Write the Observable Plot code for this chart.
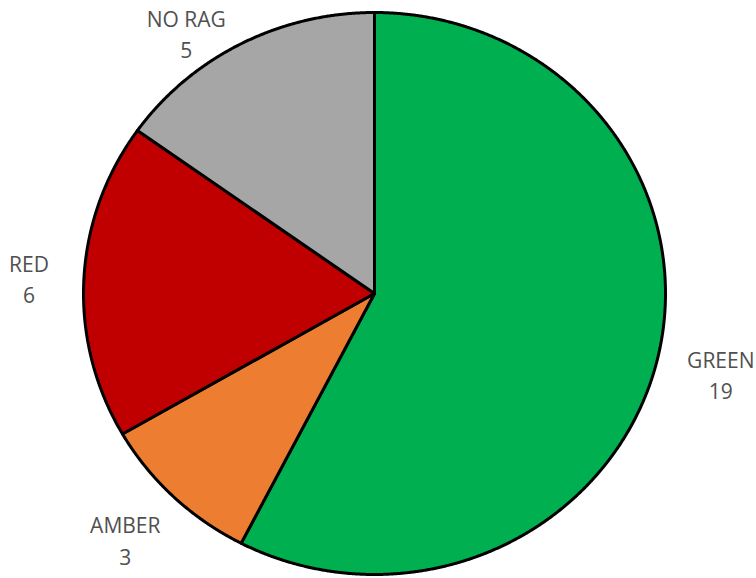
<!DOCTYPE html>
<html><head><meta charset="utf-8">
<script src="https://cdn.jsdelivr.net/npm/d3@7"></script>
<script src="https://cdn.jsdelivr.net/npm/@observablehq/plot@0.6"></script>
<style>html,body{margin:0;padding:0;background:#fff}</style>
</head><body><div id="chart"></div>
<script>
// ---- data ----
const categories = ["GREEN", "AMBER", "RED", "NO RAG"];
const values = [19, 3, 6, 5];
const colors = ["#00B050", "#ED7D31", "#C00000", "#A6A6A6"];

// ---- layout ----
const W = 756, H = 578;
const cx = 374, cy = 293, rx = 291, ry = 281;
const fontSize = 21, lineHeight = 1.5, fontFamily = "Open Sans";
const labelK = 1.12;

const rows = categories.map((c, i) => ({label: c, value: values[i]}));
const arcs = d3.pie().sort(null).value(d => d.value)(rows);

// slice outlines in unit coordinates (angle 0 = 12 o'clock, clockwise)
const pts = [];
for (const a of arcs) {
  pts.push({label: a.data.label, u: 0, v: 0});
  const n = Math.max(2, Math.ceil((a.endAngle - a.startAngle) / 0.004));
  for (let i = 0; i <= n; i++) {
    const t = a.startAngle + (a.endAngle - a.startAngle) * i / n;
    pts.push({label: a.data.label, u: Math.sin(t), v: Math.cos(t)});
  }
}

// labels outside each slice, at mid angle, box pushed outward and kept in frame
const ctx = document.createElement("canvas").getContext("2d");
ctx.font = `${fontSize}px "${fontFamily}"`;
const labels = arcs.map(a => {
  const m = (a.startAngle + a.endAngle) / 2;
  const s = Math.sin(m), c = Math.cos(m);
  const text = `${a.data.label}\n${a.data.value}`;
  const w = Math.max(ctx.measureText(a.data.label).width, ctx.measureText(String(a.data.value)).width);
  const h = fontSize * (lineHeight + 0.8);
  let px = cx + rx * labelK * s + s * w / 2;
  let py = cy - ry * labelK * c - c * h / 2;
  const pyc = Math.max(h / 2 + 8, Math.min(H - h / 2 - 6, py));
  if (pyc !== py) px += (pyc - py) * s / c; // slide sideways when pushed into the frame
  py = pyc;
  px = Math.max(w / 2 + 6, Math.min(W - w / 2 - 2, px));
  return {text, u: (px - cx) / rx, v: (cy - py) / ry};
});

const chart = Plot.plot({
  width: W, height: H, margin: 0,
  style: {background: "#fff", fontFamily: fontFamily, overflow: "visible"},
  x: {domain: [-1, 1], range: [cx - rx, cx + rx], axis: null},
  y: {domain: [-1, 1], range: [cy + ry, cy - ry], axis: null},
  color: {domain: categories, range: colors},
  marks: [
    Plot.line(pts, {x: "u", y: "v", z: "label", fill: "label", stroke: "black",
      strokeWidth: 3, curve: "linear-closed", strokeLinejoin: "round"}),
    Plot.text(labels, {x: "u", y: "v", text: "text", fill: "#505050",
      fontSize: fontSize, lineHeight: lineHeight, textAnchor: "middle", lineAnchor: "middle"})
  ]
});
document.getElementById("chart").appendChild(chart);
</script>
</body></html>
